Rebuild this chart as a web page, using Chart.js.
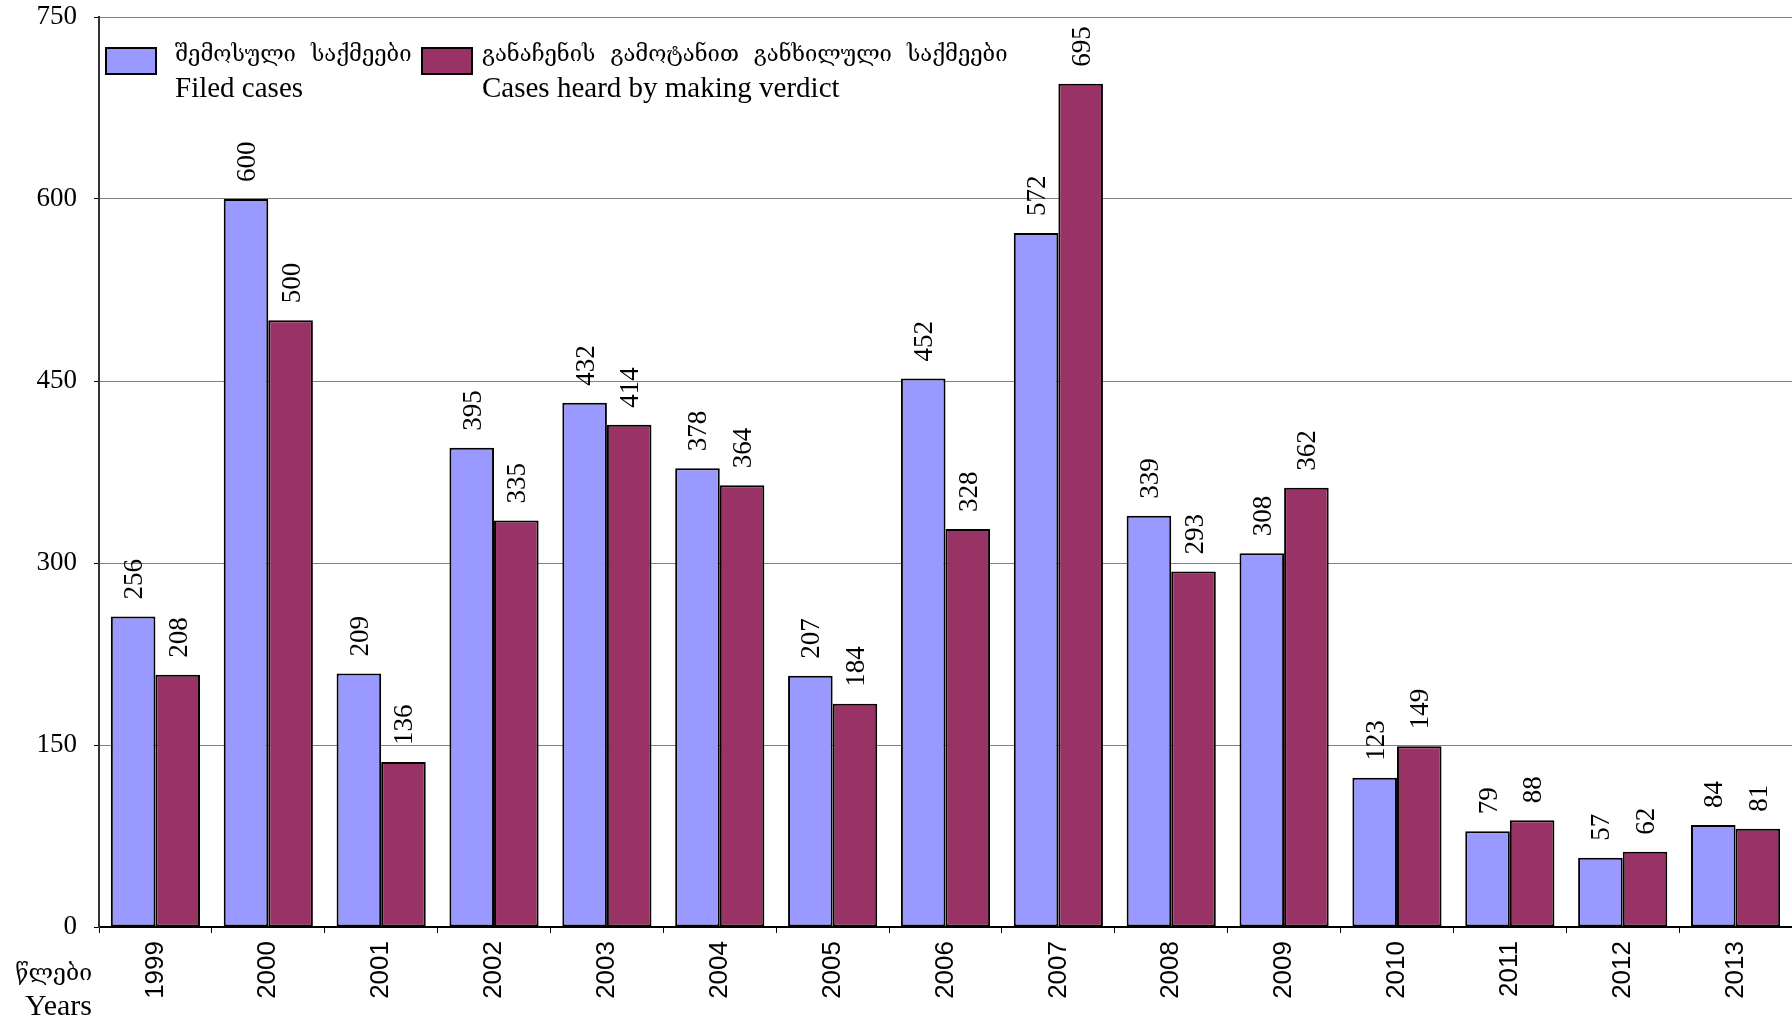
<!DOCTYPE html>
<html>
<head>
<meta charset="utf-8">
<script src="https://cdn.jsdelivr.net/npm/chart.js@4.4.0/dist/chart.umd.min.js"></script>
<style>
  body { margin: 0; background: #fff; }
  canvas { display: block; }
</style>
</head>
<body>
<canvas id="chart" width="1792" height="1022"></canvas>
<script>
// data
const years = ['1999', '2000', '2001', '2002', '2003', '2004', '2005', '2006', '2007', '2008', '2009', '2010', '2011', '2012', '2013'];
const filedCases = [256, 600, 209, 395, 432, 378, 207, 452, 572, 339, 308, 123, 79, 57, 84];
const verdictCases = [208, 500, 136, 335, 414, 364, 184, 328, 695, 293, 362, 149, 88, 62, 81];
const filedLabel = ['შემოსული საქმეები', 'Filed cases'];
const verdictLabel = ['განაჩენის გამოტანით განხილული საქმეები', 'Cases heard by making verdict'];
const axisTitle = ['წლები', 'Years'];
const yMax = 750;
const yStep = 150;

const SERIF = '"Liberation Serif", "Times New Roman", serif';
const GEO = '"DejaVu Serif", serif';

// georgian words are spread out in the original
function drawSpaced(ctx, text, x, y, gap) {
  text.split(' ').forEach(w => {
    ctx.fillText(w, x, y);
    x += ctx.measureText(w).width + gap;
  });
}

const valueLabels = {
  id: 'valueLabels',
  afterDatasetsDraw(chart) {
    const ctx = chart.ctx;
    ctx.save();
    ctx.font = '27px ' + SERIF;
    ctx.fillStyle = '#000';
    ctx.textAlign = 'left';
    ctx.textBaseline = 'alphabetic';
    chart.data.datasets.forEach((ds, i) => {
      chart.getDatasetMeta(i).data.forEach((bar, j) => {
        ctx.save();
        ctx.translate(bar.x + 9, bar.y - 17);
        ctx.rotate(-Math.PI / 2);
        ctx.fillText(String(ds.data[j]), 0, 0);
        ctx.restore();
      });
    });
    ctx.restore();
  }
};

const legendBox = {
  id: 'legendBox',
  afterDraw(chart) {
    const ctx = chart.ctx;
    const spots = [{ box: 106, text: 175 }, { box: 422, text: 482 }];
    ctx.save();
    chart.data.datasets.forEach((ds, i) => {
      const s = spots[i];
      ctx.fillStyle = ds.backgroundColor;
      ctx.fillRect(s.box, 48, 50, 26);
      ctx.lineWidth = 2;
      ctx.strokeStyle = '#000';
      ctx.strokeRect(s.box, 48, 50, 26);
      ctx.fillStyle = '#000';
      ctx.textAlign = 'left';
      ctx.textBaseline = 'alphabetic';
      ctx.font = '22px ' + GEO;
      drawSpaced(ctx, ds.label[0], s.text, 61, 15);
      ctx.font = '29px ' + SERIF;
      ctx.fillText(ds.label[1], s.text, 97);
    });
    // axis caption bottom-left
    ctx.textAlign = 'right';
    ctx.font = '23px ' + GEO;
    ctx.fillText(axisTitle[0], 92, 980);
    ctx.font = '30px ' + SERIF;
    ctx.fillText(axisTitle[1], 92, 1015);
    ctx.restore();
  }
};

new Chart(document.getElementById('chart'), {
  type: 'bar',
  data: {
    labels: years,
    datasets: [
      { label: filedLabel, data: filedCases, backgroundColor: '#9999FF', borderColor: '#000', borderWidth: 2, borderSkipped: false },
      { label: verdictLabel, data: verdictCases, backgroundColor: '#993366', borderColor: '#000', borderWidth: 2, borderSkipped: false }
    ]
  },
  options: {
    responsive: false,
    devicePixelRatio: 1,
    animation: false,
    layout: { padding: { top: 17, right: 0, left: 0, bottom: 0 } },
    datasets: { bar: { categoryPercentage: 0.79, barPercentage: 1.0 } },
    plugins: {
      legend: { display: false },
      tooltip: { enabled: false }
    },
    scales: {
      x: {
        afterFit(scale) { scale.height = 95; },
        grid: { drawOnChartArea: false, tickLength: 6, color: '#000', offset: true },
        border: { color: '#000', width: 2 },
        ticks: {
          minRotation: 90, maxRotation: 90, padding: 8, color: '#000',
          font: { family: '"Liberation Sans", Arial, sans-serif', size: 26 }
        }
      },
      y: {
        min: 0, max: yMax,
        afterFit(scale) { scale.width = 99; scale.paddingTop = 0; scale.paddingBottom = 0; },
        grid: { color: '#808080', lineWidth: 1, tickLength: 5, tickColor: '#000' },
        border: { color: '#333', width: 2 },
        ticks: {
          stepSize: yStep, padding: 17, color: '#000',
          font: { family: SERIF, size: 27 }
        }
      }
    }
  },
  plugins: [valueLabels, legendBox]
});
</script>
</body>
</html>
